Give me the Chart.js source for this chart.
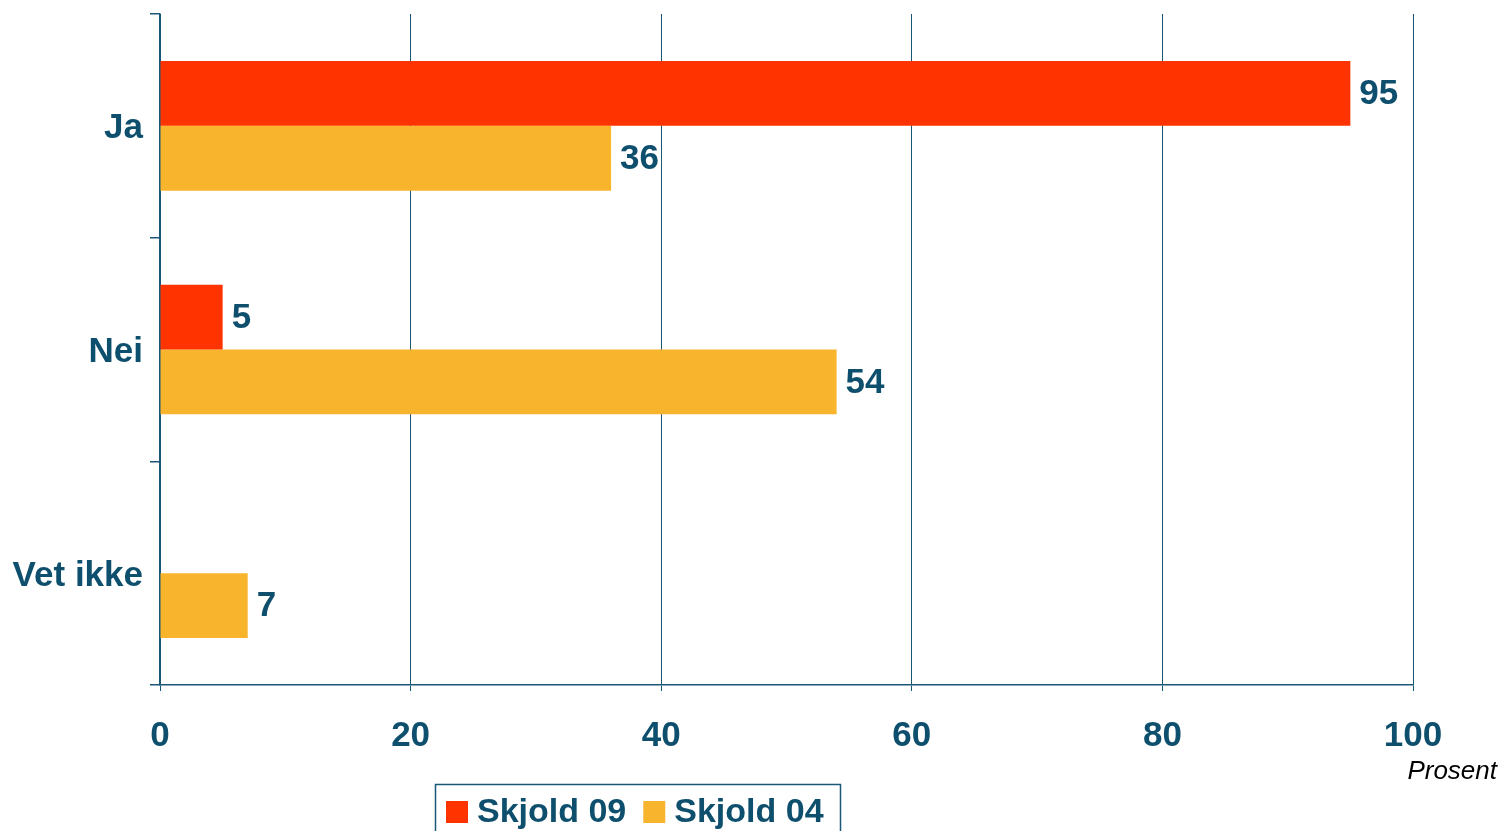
<!DOCTYPE html>
<html>
<head>
<meta charset="utf-8">
<script src="https://cdn.jsdelivr.net/npm/chart.js@4/dist/chart.umd.min.js"></script>
<style>
  html, body { margin: 0; padding: 0; background: #fff; }
  #wrap { width: 1500px; height: 831px; }
</style>
</head>
<body>
<div id="wrap"><canvas id="chart" width="1500" height="831"></canvas></div>
<script>
// svaralternativer og andeler (prosent)
const categories = ["Ja", "Nei", "Vet ikke"];
const skjold09 = [95, 5, null];
const skjold04 = [36, 54, 7];
const xTicks = [0, 20, 40, 60, 80, 100];

const TEXT = "#0E4F6D";
const LINE = "#1B5777";
const FONT = "'Liberation Sans', Arial, sans-serif";

// verdier til høyre for hver søyle
const valueLabels = {
    id: "valueLabels",
    afterDatasetsDraw(chart) {
        const ctx = chart.ctx;
        ctx.save();
        ctx.font = "bold 35px " + FONT;
        ctx.fillStyle = TEXT;
        ctx.textAlign = "left";
        ctx.textBaseline = "middle";
        chart.data.datasets.forEach((ds, i) => {
            chart.getDatasetMeta(i).data.forEach((bar, j) => {
                const v = ds.data[j];
                if (v === null || v === undefined) return;
                ctx.fillText(String(v), bar.x + 9, bar.y + 1);
            });
        });
        ctx.restore();
    }
};

// enhetstekst og legende med ramme
const extras = {
    id: "extras",
    afterDraw(chart) {
        const ctx = chart.ctx;
        ctx.save();
        ctx.font = "italic 26px " + FONT;
        ctx.fillStyle = "#000";
        ctx.textAlign = "right";
        ctx.textBaseline = "alphabetic";
        ctx.fillText("Prosent", 1497, 779);

        ctx.strokeStyle = LINE;
        ctx.lineWidth = 1.5;
        ctx.strokeRect(435.5, 784.5, 405, 60);

        ctx.font = "bold 34px " + FONT;
        ctx.textAlign = "left";
        ctx.textBaseline = "middle";
        let x = 446;
        chart.data.datasets.forEach(ds => {
            ctx.fillStyle = ds.backgroundColor;
            ctx.fillRect(x, 801, 22, 22);
            ctx.fillStyle = TEXT;
            ctx.fillText(ds.label, x + 31, 813);
            x += 31 + ctx.measureText(ds.label).width + 17;
        });
        ctx.restore();
    }
};

new Chart(document.getElementById("chart"), {
    type: "bar",
    data: {
        labels: categories,
        datasets: [
            {
                label: "Skjold 09",
                data: skjold09,
                backgroundColor: "#FF3300",
                categoryPercentage: 0.58,
                barPercentage: 1.0
            },
            {
                label: "Skjold 04",
                data: skjold04,
                backgroundColor: "#F9B42D",
                categoryPercentage: 0.58,
                barPercentage: 1.0
            }
        ]
    },
    options: {
        indexAxis: "y",
        responsive: false,
        animation: false,
        layout: { padding: { left: 0, right: 87, top: 14, bottom: 0 } },
        plugins: {
            legend: { display: false },
            tooltip: { enabled: false }
        },
        scales: {
            x: {
                min: 0,
                max: 100,
                afterFit(scale) {
                    scale.height = 146;
                    scale.paddingLeft = 0;
                    scale.paddingRight = 0;
                },
                afterBuildTicks(scale) { scale.ticks = xTicks.map(v => ({ value: v })); },
                grid: {
                    color: LINE,
                    lineWidth: 1,
                    drawTicks: true,
                    tickLength: 6,
                    tickColor: LINE
                },
                border: { color: LINE, width: 1.5 },
                ticks: {
                    padding: 24,
                    color: TEXT,
                    font: { family: FONT, size: 35, weight: "bold" }
                }
            },
            y: {
                afterFit(scale) {
                    scale.width = 160;
                    scale.paddingTop = 0;
                    scale.paddingBottom = 0;
                },
                grid: {
                    drawOnChartArea: false,
                    drawTicks: true,
                    tickLength: 10,
                    tickColor: LINE,
                    lineWidth: 1.5
                },
                border: { color: LINE, width: 1.5 },
                ticks: {
                    padding: 7,
                    labelOffset: 3,
                    color: TEXT,
                    font: { family: FONT, size: 35, weight: "bold" }
                }
            }
        }
    },
    plugins: [valueLabels, extras]
});
</script>
</body>
</html>
